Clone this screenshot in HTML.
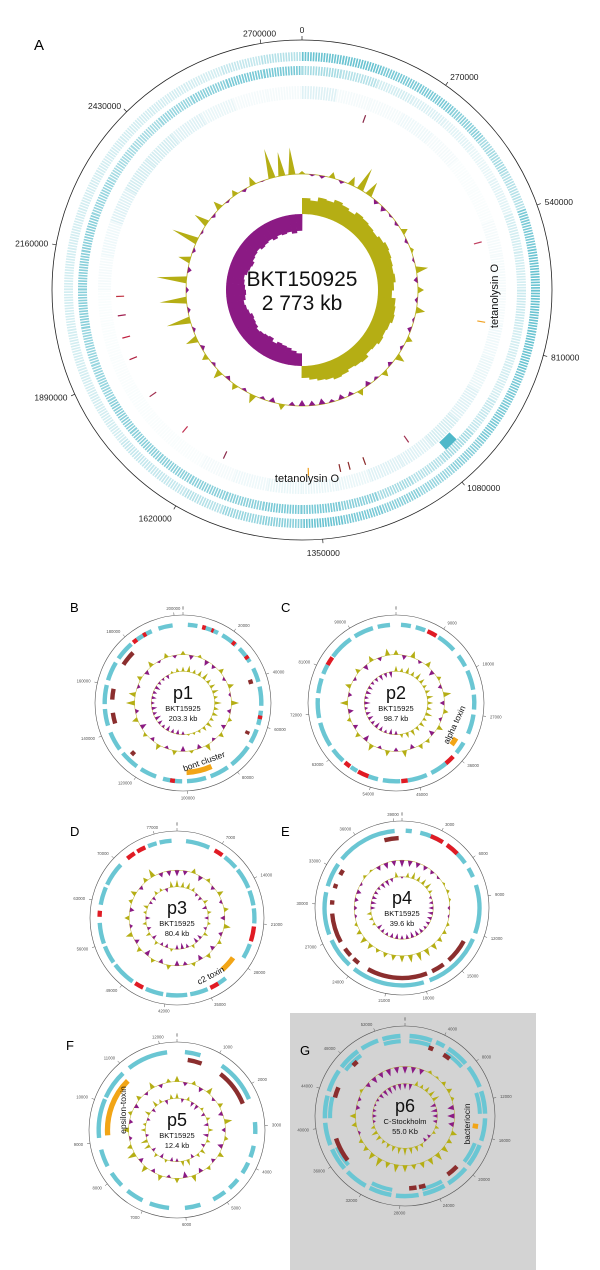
<!DOCTYPE html>
<html><head><meta charset="utf-8"><style>
html,body{margin:0;padding:0;background:#fff;}
svg{display:block;font-family:"Liberation Sans",sans-serif;}
</style></head><body>
<svg id="fig" width="600" height="1270" viewBox="0 0 600 1270" xmlns="http://www.w3.org/2000/svg">
<rect x="290" y="1013" width="246" height="257" fill="#d3d3d3"/>
<text x="34" y="50" font-size="15">A</text>
<text x="70" y="612" font-size="13">B</text>
<text x="281" y="612" font-size="13">C</text>
<text x="70" y="836" font-size="13">D</text>
<text x="281" y="836" font-size="13">E</text>
<text x="66" y="1050" font-size="13">F</text>
<text x="300" y="1055" font-size="13">G</text>
<g id="layer"></g>
</svg>
<script>
// ===== Panel A data =====
const A_total = 2773000;
const A_ticks = [0,270000,540000,810000,1080000,1350000,1620000,1890000,2160000,2430000,2700000];
const A_track1 = [1,1,.9,.9,.8,.6,.5,.9,1,1,1,.9,.9,.8,.7,.8,.9,1,.8,.7,.5,.4,.4,.3,.3,.3,.3,.3,.3,.3,.3,.3,.3,.3,.4,.5];
const A_track2 = [.6,.5,.3,.25,.2,.15,.2,.3,.3,.35,.3,.3,.4,.6,.5,.6,.8,.9,.9,.8,.8,.8,.8,.8,.7,.7,.8,.8,.8,.7,.6,.6,.7,.8,.9,.9];
const A_track3 = [.3,.1,.1,.15,.1,.05,.05,.1,.1,.1,.15,.2,.3,.4,.3,.3,.2,.2,.2,.15,.1,.05,.05,.05,.05,.05,.05,.1,.15,.3,.4,.4,.3,.2,.1,.1];
const A_marks = [20,75,100,145,160,165,168,178,205,220,235,248,255,262,268];
const A_markColors = ["#8b2a4a","#c04060","#f0a020","#a03050","#8b2a2a","#8b2a2a","#8b2a2a","#f0a020","#8b2a4a","#c03050","#a03050","#b02040","#c02040","#a02050","#c03040"];
const A_skew = [.8,.7,.9,.85,1,.9,.8,.95,.9,.85,.8,.9,1,.95,.9,.85,.9,.8,.7,.9,.95,1,.9,.85,.9,.8,.75,.9,.85,.8,.9,.95,.85,.8,.7,.6,
 -.6,-.7,-.8,-.85,-.9,-.8,-.95,-.9,-.85,-.8,-.9,-.95,-1,-.9,-.85,-.8,-.9,-.95,-.9,-.85,-.8,-.9,-.95,-1,-.9,-.85,-.8,-.9,-.85,-.8,-.9,-.8,-.85,-.8,-.9,-.8];
const A_gc = [.1,-.2,-.3,.2,-.3,.3,.8,.5,-.4,-.5,-.2,-.3,.2,-.3,.1,-.2,.4,-.4,.2,-.3,.3,-.2,-.4,.2,-.3,.3,-.4,.2,-.3,-.5,.2,-.4,-.5,-.3,-.6,-.5,
 -.6,-.4,.2,-.5,-.3,.3,-.3,.2,-.4,.3,-.3,.2,-.4,.4,-.3,.8,-.3,.9,-.3,1,-.4,.4,-.3,.9,-.2,.5,-.3,.3,-.2,.2,-.3,.3,-.1,1,.8,.9];

// ===== Small plasmid panels data =====
const B_total=203300, B_tickStep=20000;
const B_cyan=[[2000,6000],[9000,15000],[17000,24000],[26000,33000],[36000,42000],[44000,52000],[54000,60000],[62000,68000],[70000,80000],[82000,90000],[92000,100000],[102000,110000],[113000,120000],[122000,130000],[132000,140000],[143000,150000],[152000,160000],[162000,170000],[172000,180000],[183000,190000],[193000,199000]];
const B_red=[[8000,9500],[12000,13000],[22000,23500],[30000,31500],[56000,57500],[105000,107000],[181000,183000],[186000,187500]];
const B_brown=[[40000,42000],[64000,65500],[126000,128000],[143000,148000],[154000,159000],[171000,178000]];
const B_orange=[[88000,100000]];
const B_gc=[.4,-.6,.3,-.7,-.5,.5,-.4,.6,-.3,.8,-.5,.4,-.6,.5,-.4,.7,-.6,.3,-.7,.5,-.4,.6,-.5,.4,-.8,.6,-.5,.9,.7,-.4,.5,-.6,.6,-.3,.5,-.4];
const B_skew=[.6,.8,.5,.7,.9,.6,.7,.8,.5,.9,.6,.7,.5,.8,.6,.4,.3,.2,-.5,-.7,-.6,-.8,-.5,-.7,-.9,-.6,-.8,-.5,-.7,-.6,-.8,-.5,-.4,-.6,.3,.5];

const C_total=98700, C_tickStep=9000;
const C_cyan=[[1000,3000],[4000,6000],[9000,13000],[14500,17000],[18000,22000],[23000,26000],[27000,31000],[33000,35500],[38500,42000],[43000,47000],[48500,52000],[53000,55000],[57500,59000],[61000,64000],[65000,70000],[71000,75000],[76000,79000],[80000,82000],[84000,89000],[90000,94000],[95000,97500]];
const C_red=[[6500,8500],[36500,38500],[47000,48300],[55000,57300],[59200,60500],[82000,83800]];
const C_brown=[];
const C_orange=[[33000,34800]];
const C_gc=[.5,-.6,.7,-.4,.6,-.7,.4,-.5,.8,-.6,.5,-.4,.6,-.7,.4,.5,-.6,.7,-.5,.6,-.4,.7,-.8,.5,-.6,.4,-.7,.8,-.5,.6,-.4,.5,-.7,.6,-.5,.7];
const C_skew=[.7,.5,.8,.6,.9,.7,.5,.6,.8,.7,.6,.9,.5,.7,.6,.8,.7,.5,-.6,-.8,-.5,-.7,-.9,-.6,-.8,-.7,-.5,-.9,-.6,-.8,-.7,-.5,-.6,-.8,-.7,-.9];

const D_total=80400, D_tickStep=7000;
const D_cyan=[[1500,5500],[8500,11000],[11500,15000],[15500,18000],[18500,21000],[24500,27000],[31500,33000],[35000,38000],[38500,42000],[42500,45500],[48000,52000],[52500,55500],[56000,59500],[62500,65500],[66000,70000],[75500,77000],[77500,79500]];
const D_red=[[6500,8000],[21500,24000],[33000,34500],[46000,47500],[60500,61500],[71500,73000],[73500,75000]];
const D_brown=[];
const D_orange=[[28000,31000]];
const D_gc=[-.8,-.6,.5,-.7,.4,-.5,.6,-.4,.5,-.6,.7,-.5,.4,-.6,.5,-.7,.4,-.5,-.7,.5,-.6,.4,-.8,.5,-.6,.7,-.4,.5,-.6,.4,.6,-.5,.5,.9,-.6,-.7];
const D_skew=[.9,.7,.8,.5,-.5,-.6,.6,-.7,.5,-.6,.4,-.5,.6,-.7,-.8,.5,-.6,-.9,-.7,.4,-.6,-.5,.5,-.7,.6,-.6,.5,-.7,.4,.6,-.5,-.6,.5,.4,-.6,.8];

const E_total=39600, E_tickStep=3000;
const E_cyan=[[300,800],[1500,3500],[4000,6000],[6500,7300],[8000,12000],[12500,17500],[18000,24000],[24500,27000],[27500,31000],[31500,33500],[34000,39000]];
const E_red=[[2400,3500],[3900,5000]];
const E_brown=[[38000,39300],[13000,15200],[15800,17000],[17500,23000],[24000,24600],[25000,25800],[26500,29200],[30000,30400],[31500,31900],[32800,33300]];
const E_orange=[];
const E_gc=[-.9,-.8,-.7,-.6,-.5,-.3,.2,.3,.2,-.3,-.2,.3,.4,.5,.7,.8,.9,.8,.7,.6,.5,.4,.6,.7,.5,.3,-.3,-.4,-.5,-.6,-.3,.3,.2,-.6,-.8,-.7];
const E_skew=[-.3,.6,.9,.7,.8,.9,.5,-.4,-.6,-.7,-.8,-.7,-.6,-.5,-.7,-.8,-.9,-.7,-.6,-.8,-.7,-.5,-.6,-.8,.4,.5,.6,-.7,-.8,-.7,-.6,-.5,-.8,-.9,-.6,.7];

const F_total=12400, F_tickStep=1000;
const F_cyan=[[200,600],[1200,2300],[2900,3200],[3500,3800],[3950,4250],[4450,4750],[4900,5250],[5600,6000],[6400,6900],[7100,7550],[7750,8150],[8350,8800],[9100,10100],[10150,10900],[11100,12150]];
const F_red=[];
const F_brown=[[300,700],[1300,2350]];
const F_orange=[[9150,10850]];
const F_gc=[.6,-.5,.4,-.6,.7,-.4,.5,-.6,.8,-.5,.4,-.7,.6,-.5,.4,-.6,.7,-.8,.5,-.4,.6,-.5,.7,-.6,.9,.5,-.4,.6,-.5,.4,-.6,.5,-.4,.7,-.5,.4];
const F_skew=[.7,-.6,.5,-.7,-.8,.4,-.6,.5,-.7,.6,-.8,.5,-.6,.7,.5,-.6,.8,.7,-.5,-.6,.4,-.7,.5,-.6,.8,.9,-.5,.6,.4,-.5,.7,-.6,.8,.5,-.7,.6];

const G_total=55000, G_tickStep=4000;
const G_cyan=[[500,3000],[3500,4500],[5000,7500],[8000,10500],[11000,13500],[14000,16500],[17000,19500],[20000,22500],[23000,25500],[26000,28500],[29000,31500],[32000,34500],[35000,37500],[38000,40500],[41000,43500],[44000,46500],[47000,49500],[50000,52000],[52500,54500]];
const G_red=[];
const G_brown=[[2900,3500],[4900,5800],[20500,22000],[25000,25800],[26100,27000],[35500,38500],[43500,44800],[48000,48700]];
const G_orange=[[14700,15300]];
const G_gc=[-.9,-.8,-.7,.3,.2,.4,.5,.3,-.8,-.9,-.7,.6,.5,.7,.8,.7,.6,.5,.7,.8,.6,.9,.7,.5,.4,-.3,.5,.6,-.5,-.4,.3,-.6,-.8,-.7,-.9,-.8];
const G_skew=[-.8,-.9,.6,.5,.7,.8,.9,-.8,-.9,-.7,-.6,.5,.4,-.5,-.6,.5,.7,.8,.9,.8,.7,.6,.5,.7,.8,.5,-.4,-.6,-.5,-.3,-.4,-.7,-.9,-1,-.8,-.9];

// ===== helpers =====
const NS="http://www.w3.org/2000/svg";
const layer=document.getElementById('layer');
function mk(tag,attrs,parent){const e=document.createElementNS(NS,tag);for(const k in attrs)e.setAttribute(k,attrs[k]);(parent||layer).appendChild(e);return e;}
function pt(cx,cy,r,a){const t=a*Math.PI/180;return [cx+r*Math.sin(t),cy-r*Math.cos(t)];}
function sector(cx,cy,r1,r2,a1,a2){
  const large=(a2-a1)>180?1:0;
  const p1=pt(cx,cy,r2,a1),p2=pt(cx,cy,r2,a2),p3=pt(cx,cy,r1,a2),p4=pt(cx,cy,r1,a1);
  return `M${p1[0]},${p1[1]}A${r2},${r2} 0 ${large} 1 ${p2[0]},${p2[1]}L${p3[0]},${p3[1]}A${r1},${r1} 0 ${large} 0 ${p4[0]},${p4[1]}Z`;
}
function arc(cx,cy,r,a1,a2){const p1=pt(cx,cy,r,a1),p2=pt(cx,cy,r,a2);const large=(a2-a1)>180?1:0;return `M${p1[0]},${p1[1]}A${r},${r} 0 ${large} 1 ${p2[0]},${p2[1]}`;}
function spikes(g,cx,cy,rb,vals,ampPos,ampNeg,colPos,colNeg,w){
  const n=vals.length,st=360/n,hw=st*(w||0.3);
  for(let i=0;i<n;i++){
    const v=vals[i],a=i*st;
    const amp=v>=0?ampPos:ampNeg;
    const tip=rb+v*amp;
    const b1=pt(cx,cy,rb,a-hw),b2=pt(cx,cy,rb,a+hw),t=pt(cx,cy,tip,a);
    const p=mk('path',{d:`M${b1[0]},${b1[1]}L${t[0]},${t[1]}L${b2[0]},${b2[1]}Z`,fill:v>=0?colPos:colNeg},g);
    
    
  }
}

// ===== Panel A =====
(function(){
  const cx=302,cy=290,R=250;
  const g=mk('g',{});
  
  
  const c=mk('circle',{cx,cy,r:R,fill:'none',stroke:'#222','stroke-width':0.8},g);
  
  
  A_ticks.forEach(v=>{
    const a=v/A_total*360;
    const p1=pt(cx,cy,R,a),p2=pt(cx,cy,R+4,a);
    const tk=mk('line',{x1:p1[0],y1:p1[1],x2:p2[0],y2:p2[1],stroke:'#222','stroke-width':0.7},g);
    
    
    const s=Math.sin(a*Math.PI/180),co=Math.cos(a*Math.PI/180);
    const lp=pt(cx,cy,R+8,a);
    const t=mk('text',{x:lp[0],y:lp[1]+3+(co<-0.8?6:0)+(co>0.8?-2:0),'font-size':8.5,fill:'#222','text-anchor':s>0.3?'start':(s<-0.3?'end':'middle')},g);
    t.textContent=v;
    
    
  });
  function track(arr,r1,r2,col){
    arr.forEach((d,i)=>{
      const p=mk('path',{d:arc(cx,cy,(r1+r2)/2,i*10,i*10+10),fill:'none',stroke:col,'stroke-width':r2-r1,'stroke-dasharray':'1.6 1.1','stroke-opacity':d*0.85},g);
      
      
    });
  }
  track(A_track1,229,238,'#4fb8c9');
  track(A_track2,215,224,'#4fb8c9');
  track(A_track3,191,204,'#7fcad6');
  const blk=mk('path',{d:sector(cx,cy,205,215,134,138),fill:'#4fb8c9'},g);
  
  
  A_marks.forEach((a,i)=>{
    const p1=pt(cx,cy,178,a),p2=pt(cx,cy,186,a);
    const m=mk('line',{x1:p1[0],y1:p1[1],x2:p2[0],y2:p2[1],stroke:A_markColors[i],'stroke-width':1.2},g);
    
    
  });
  const n=A_skew.length,st=360/n;
  A_skew.forEach((v,i)=>{
    const r1=v>=0?76:76+v*21, r2=v>=0?76+v*20:76;
    const p=mk('path',{d:sector(cx,cy,r1,r2,i*st,i*st+st+0.3),fill:v>=0?'#b5ae14':'#8b1a84'},g);
    
    
  });
  const base=mk('circle',{cx,cy,r:116,fill:'none',stroke:'#b5ae14','stroke-width':0.8},g);
  
  
  spikes(g,cx,cy,116,A_gc,30,10,'#b5ae14','#8b1a84',0.35);
  const t1=mk('text',{x:cx,y:cy-4,'font-size':21,'text-anchor':'middle',fill:'#111'},g);
  t1.textContent='BKT150925';
  
  
  const t2=mk('text',{x:cx,y:cy+20,'font-size':21,'text-anchor':'middle',fill:'#111'},g);
  t2.textContent='2 773 kb';
  
  
  const l1=mk('text',{x:0,y:0,'font-size':11,'text-anchor':'middle',fill:'#111',transform:'translate(498,296) rotate(-90)'},g);
  l1.textContent='tetanolysin O';
  
  
  const l2=mk('text',{x:307,y:482,'font-size':11,'text-anchor':'middle',fill:'#111'},g);
  l2.textContent='tetanolysin O';
  
  
})();

function plasmid(name,cx,cy,R,total,step,cyan,red,brown,orange,gc,skew,title,sub,size,twoRowCyan){
  const g=mk('g',{});
  
  
  const c=mk('circle',{cx,cy,r:R,fill:'none',stroke:'#555','stroke-width':0.6},g);
  
  
  for(let v=0;v<total;v+=step){
    const a=v/total*360;
    const p1=pt(cx,cy,R,a),p2=pt(cx,cy,R+3,a);
    const tk=mk('line',{x1:p1[0],y1:p1[1],x2:p2[0],y2:p2[1],stroke:'#555','stroke-width':0.5},g);
    
    
    const s=Math.sin(a*Math.PI/180);
    const lp=pt(cx,cy,R+7,a);
    const t=mk('text',{x:lp[0],y:lp[1]+1.5,'font-size':4.2,fill:'#555','text-anchor':s>0.3?'start':(s<-0.3?'end':'middle')},g);
    t.textContent=v;
    
    
  }
  function feats(arr,r1,r2,col,nm){
    arr.forEach(f=>{
      const p=mk('path',{d:sector(cx,cy,r1,r2,f[0]/total*360,f[1]/total*360),fill:col},g);
      
      
    });
  }
  feats(cyan,R*0.865,R*0.915,'#6ac6d3','cds-forward');
  if(twoRowCyan) feats(cyan.filter((f,i)=>i%2==0),R*0.81,R*0.855,'#6ac6d3','cds-reverse');
  feats(red,R*0.865,R*0.915,'#e01b24','feature-red');
  feats(brown,R*0.78,R*0.83,'#8b2e2e','feature-brown');
  feats(orange,R*0.76,R*0.82,'#f2a516','feature-toxin');
  const base=mk('circle',{cx,cy,r:R*0.55,fill:'none',stroke:'#b5ae14','stroke-width':0.5},g);
  
  
  spikes(g,cx,cy,R*0.55,gc,R*0.11,R*0.09,'#b5ae14','#8b1a84',0.3);
  const b2=mk('circle',{cx,cy,r:R*0.36,fill:'none',stroke:'#b5ae14','stroke-width':0.5},g);
  
  
  spikes(g,cx,cy,R*0.36,skew,R*0.09,R*0.08,'#b5ae14','#8b1a84',0.3);
  const t1=mk('text',{x:cx,y:cy-4,'font-size':18,'text-anchor':'middle',fill:'#111'},g);
  t1.textContent=title;
  
  
  const t2=mk('text',{x:cx,y:cy+8,'font-size':7.5,'text-anchor':'middle',fill:'#111'},g);
  t2.textContent=sub;
  
  
  const t3=mk('text',{x:cx,y:cy+18,'font-size':7.5,'text-anchor':'middle',fill:'#111'},g);
  t3.textContent=size;
  
  
  return g;
}
plasmid('panel-b-p1',183,703,88,B_total,B_tickStep,B_cyan,B_red,B_brown,B_orange,B_gc,B_skew,'p1','BKT15925','203.3 kb');
plasmid('panel-c-p2',396,703,88,C_total,C_tickStep,C_cyan,C_red,C_brown,C_orange,C_gc,C_skew,'p2','BKT15925','98.7 kb');
plasmid('panel-d-p3',177,918,87,D_total,D_tickStep,D_cyan,D_red,D_brown,D_orange,D_gc,D_skew,'p3','BKT15925','80.4 kb');
plasmid('panel-e-p4',402,908,87,E_total,E_tickStep,E_cyan,E_red,E_brown,E_orange,E_gc,E_skew,'p4','BKT15925','39.6 kb');
plasmid('panel-f-p5',177,1130,88,F_total,F_tickStep,F_cyan,F_red,F_brown,F_orange,F_gc,F_skew,'p5','BKT15925','12.4 kb');
plasmid('panel-g-p6',405,1116,90,G_total,G_tickStep,G_cyan,G_red,G_brown,G_orange,G_gc,G_skew,'p6','C-Stockholm','55.0 Kb',true);

function label(txt,x,y,rot,nm){
  const t=mk('text',{x:0,y:0,'font-size':8.5,'text-anchor':'middle',fill:'#111',transform:`translate(${x},${y}) rotate(${rot})`});
  t.textContent=txt;
  
  
}
label('bont cluster',205,764,-20,'bont-cluster-label');
label('alpha toxin',457,726,-65,'alpha-toxin-label');
label('c2 toxin',212,978,-28,'c2-toxin-label');
label('epsilon-toxin',126,1110,-90,'epsilon-toxin-label');
label('bacteriocin',470,1124,-90,'bacteriocin-label');
</script>
</body></html>
